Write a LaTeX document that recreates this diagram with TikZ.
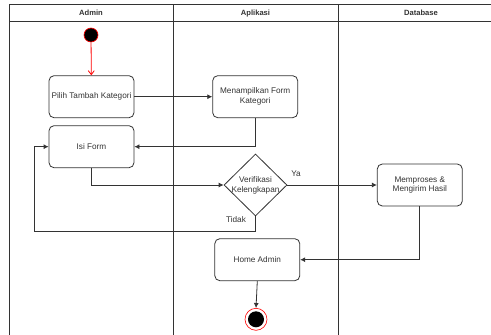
\documentclass[tikz,border=0pt]{standalone}
\usepackage{fontspec}
\setmainfont{Liberation Sans}
\usetikzlibrary{shapes.geometric,arrows.meta}
\definecolor{ink}{HTML}{333333}
\tikzset{
  lane/.style={draw=ink, line width=0.8pt},
  act/.style={draw=ink, line width=0.8pt, rounded corners=5pt, minimum width=85pt,
    minimum height=42pt, align=center, font=\fontsize{8.2}{9.8}\selectfont, text=ink, inner sep=1pt},
  decide/.style={draw=ink, line width=0.8pt, diamond, minimum width=63pt, minimum height=62pt, inner sep=0pt},
  flow/.style={draw=ink, line width=0.8pt, -{Latex[length=5pt,width=5pt]}},
  startflow/.style={draw=red, line width=0.8pt, -{Straight Barb[length=4pt,width=6pt]}},
  hdr/.style={font=\bfseries\fontsize{7.6}{9}\selectfont, text=ink, anchor=base},
  lbl/.style={font=\fontsize{8.2}{9.8}\selectfont, text=ink},
}
\begin{document}
\begin{tikzpicture}[x=1pt,y=-1pt]
  \useasboundingbox (0,0) rectangle (491,335);
  \fill[white] (0,0) rectangle (491,335);
  % swimlane frame
  \draw[lane] (9,335) -- (9,4) -- (491,4);
  \draw[lane] (9,21) -- (491,21);
  \draw[lane] (173,4) -- (173,335);
  \draw[lane] (338,4) -- (338,335);
  \node[hdr] (hAdmin) at (91,15.8) {Admin};
  \node[hdr] (hApp) at (255.5,15.8) {Aplikasi};
  \node[hdr] (hDb) at (421,15.8) {Database};

  % activities
  \node[circle, draw=red, fill=black, minimum size=14pt, inner sep=0pt, line width=0.6pt] (start) at (91,35) {};
  \node[act] (pilih) at (91.5,96.7) {Pilih Tambah Kategori};
  \node[act] (isi) at (91.5,146.7) {Isi Form};
  \node[act] (tampil) at (255.2,96.7) {Menampilkan Form\\Kategori};
  \node[decide, label={[lbl, align=center, inner sep=0pt]center:Verifikasi\\Kelengkapan}] (verif) at (255.5,185) {};
  \node[act] (proses) at (419.8,185) {Memproses \&\\Mengirim Hasil};
  \node[act] (home) at (257.3,259.7) {Home Admin};
  \node[circle, draw=red, fill=white, minimum size=22pt, inner sep=0pt, line width=0.6pt] (finish) at (256,319.3) {};
  \fill[black] (finish.center) circle (8pt);

  \coordinate (back) at (34.3,231.3);

  % connectors
  \draw[startflow] (start) -- (pilih);
  \draw[flow] (pilih) -- (tampil);
  \draw[flow] (tampil.south) |- (isi.east);
  \draw[flow] (isi.south) |- (verif.west);
  \draw[flow] (verif.east) -- (proses.west);
  \draw[flow] (verif.south) |- (back) |- (isi.west);
  \draw[flow] (proses.south) |- (home.east);
  \draw[flow] (home.south) -- (finish.north);

  \node[lbl] (ya) at (296,174) {Ya};
  \node[lbl] (tidak) at (236,220) {Tidak};
\end{tikzpicture}
\end{document}
